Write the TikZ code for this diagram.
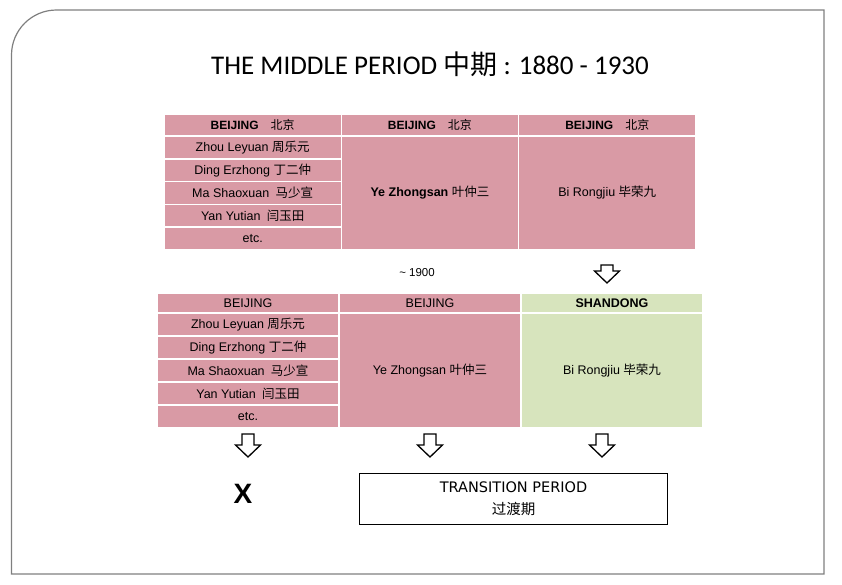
\documentclass[tikz,border=0pt]{standalone}
\usepackage{fontspec}
\setmainfont{Liberation Sans}
\newfontfamily\cjk{Noto Sans CJK SC}
\newfontfamily\titlefont{Carlito}
\newfontfamily\boxfont{DejaVu Sans}
\usetikzlibrary{positioning}

\definecolor{cellpink}{HTML}{D99AA5}
\definecolor{cellgreen}{HTML}{D7E4BD}
\definecolor{framegray}{HTML}{7F7F7F}
\newcommand{\zh}[1]{{\cjk\mdseries #1}}

\tikzset{
    cell/.style={rectangle, draw=white, line width=1.5pt, fill=cellpink, outer sep=0pt, inner sep=0pt, font=\fontsize{12.5}{14}\selectfont},
    greencell/.style={cell, fill=cellgreen},
    tophead/.style={cell, font=\bfseries\fontsize{12}{14}\selectfont, minimum width=\topw, minimum height=22},
    toprow/.style={cell, minimum width=\topw, minimum height=\toprowh},
    bothead/.style={cell, minimum width=\botw, minimum height=20},
    botrow/.style={cell, minimum width=\botw, minimum height=\botrowh},
    blockarrow/.style={draw, line width=1.3pt, fill=white, line join=miter},
}

\begin{document}
\begin{tikzpicture}[x=1pt, y=-1pt]
        \def\topw{177.3}
        \def\toprowh{22.8}
        \def\botw{182}
        \def\botrowh{23}

        \useasboundingbox (0,0) rectangle (842,584);
        \draw[framegray, line width=1.2pt] (11.5,574) -- (11.5,55) arc[start angle=180, end angle=270, radius=45] -- (824,10) -- (824,574) -- cycle;

        \node[font=\titlefont\fontsize{27}{32}\selectfont] (title) at (430,64) {THE MIDDLE PERIOD \zh{中期} : 1880 - 1930};

        % top table
        \node[tophead, anchor=north west] (tb1) at (164,114) {BEIJING\quad \zh{北京}};
        \node[tophead, right=0pt of tb1] (tb2) {BEIJING\quad \zh{北京}};
        \node[tophead, right=0pt of tb2] (tb3) {BEIJING\quad \zh{北京}};
        \node[toprow, below=0pt of tb1] (tz1) {Zhou Leyuan \zh{周乐元}};
        \node[toprow, below=0pt of tz1] (tz2) {Ding Erzhong \zh{丁二仲}};
        \node[toprow, below=0pt of tz2] (tz3) {Ma Shaoxuan\enspace\zh{马少宣}};
        \node[toprow, below=0pt of tz3] (tz4) {Yan Yutian\enspace\zh{闫玉田}};
        \node[toprow, below=0pt of tz4] (tz5) {etc.};
        \node[toprow, minimum height=5*\toprowh, below=0pt of tb2] (tye) {\textbf{Ye Zhongsan} \zh{叶仲三}};
        \node[toprow, minimum height=5*\toprowh, below=0pt of tb3] (tbi) {Bi Rongjiu \zh{毕荣九}};

        \node[font=\fontsize{11.5}{13}\selectfont] (year) at (417,273) {\textasciitilde\ 1900};

        % bottom table
        \node[bothead, anchor=north west] (bb1) at (157,293) {BEIJING};
        \node[bothead, right=0pt of bb1] (bb2) {BEIJING};
        \node[bothead, greencell, right=0pt of bb2] (bb3) {\textbf{SHANDONG}};
        \node[botrow, below=0pt of bb1] (bz1) {Zhou Leyuan \zh{周乐元}};
        \node[botrow, below=0pt of bz1] (bz2) {Ding Erzhong \zh{丁二仲}};
        \node[botrow, below=0pt of bz2] (bz3) {Ma Shaoxuan\enspace\zh{马少宣}};
        \node[botrow, below=0pt of bz3] (bz4) {Yan Yutian\enspace\zh{闫玉田}};
        \node[botrow, below=0pt of bz4] (bz5) {etc.};
        \node[botrow, minimum height=5*\botrowh, below=0pt of bb2] (bye) {Ye Zhongsan \zh{叶仲三}};
        \node[botrow, greencell, minimum height=5*\botrowh, below=0pt of bb3] (bbi) {Bi Rongjiu \zh{毕荣九}};

        % block arrows
        \foreach \ax/\ay/\sh in {607/265/6, 248/434/11, 430/434/11, 602/434/11}
            \draw[blockarrow, shift={(\ax,\ay)}] (-6,0) -- (6,0) -- (6,\sh) -- (12.5,\sh) -- (0,\sh+12) -- (-12.5,\sh) -- (-6,\sh) -- cycle;

        \node[font=\bfseries\fontsize{28}{30}\selectfont] (cross) at (243,494) {X};
        \node[draw, line width=1pt, minimum width=308, minimum height=51, anchor=north west, align=center, font=\boxfont\fontsize{14.5}{22}\selectfont] (trans) at (359,473) {TRANSITION PERIOD\\ \zh{过渡期}};
    \end{tikzpicture}
\end{document}
